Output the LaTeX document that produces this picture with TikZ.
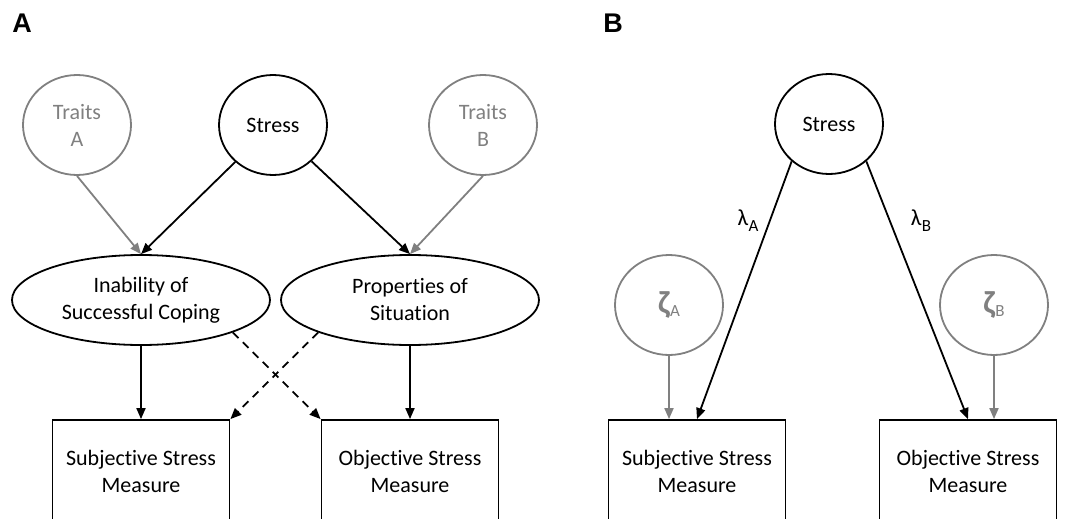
\documentclass[tikz,border=0pt]{standalone}
\usepackage{fontspec}
\setmainfont{Carlito}[Ligatures=NoCommon]
\newfontfamily\labfont{Liberation Sans}
\usetikzlibrary{shapes.geometric,arrows.meta}
\definecolor{gcol}{RGB}{128,128,128}
\tikzset{
  base/.style={inner sep=0pt,align=center,font=\fontsize{22}{27}\selectfont,line width=1.8pt},
  lat/.style={base,ellipse,draw,minimum width=108pt,minimum height=100pt},
  grey/.style={draw=gcol,text=gcol},
  wide/.style={base,ellipse,draw,minimum width=258pt,minimum height=90pt},
  obs/.style={base,rectangle,draw,minimum width=177pt,minimum height=102pt},
  arr/.style={-{Triangle[length=11pt,width=9pt]},line width=1.8pt},
  garr/.style={arr,draw=gcol},
  panel/.style={inner sep=0pt,font=\labfont\bfseries\fontsize{27}{30}\selectfont},
  lam/.style={inner sep=0pt,font=\fontsize{23}{27}\selectfont}
}
\newcommand{\subA}[2]{\kern0.5pt\raisebox{#1}{\fontsize{17}{17}\selectfont #2}}
\begin{document}
\begin{tikzpicture}[x=1pt,y=-1pt]
\useasboundingbox (0,0) rectangle (1077,519);
\clip (0,0) rectangle (1077,519);
% Panel A
\node[panel] (labA) at (22,23) {A};
\node[lat,grey] (traitsA) at (77,125) {Traits\\A};
\node[lat] (stressA) at (273,125) {Stress};
\node[lat,grey] (traitsB) at (483,125) {Traits\\B};
\node[wide] (inab) at (141,300) {Inability of\\Successful Coping};
\node[wide] (prop) at (410,300) {Properties of\\Situation};
\node[obs] (subjA) at (141,471) {Subjective Stress\\Measure};
\node[obs] (objA) at (410,471) {Objective Stress\\Measure};
\draw[garr] (traitsA.south) -- (inab.north);
\draw[garr] (traitsB.south) -- (prop.north);
\draw[arr] (stressA) -- (inab.north);
\draw[arr] (stressA) -- (prop.north);
\draw[arr] (inab.south) -- (subjA.north);
\draw[arr] (prop.south) -- (objA.north);
\draw[arr,dashed,dash pattern=on 8pt off 6pt] (inab.south east) -- (objA.north west);
\draw[arr,dashed,dash pattern=on 8pt off 6pt] (prop.south west) -- (subjA.north east);
% Panel B
\node[panel] (labB) at (613,23) {B};
\node[lat] (stressB) at (829,124) {Stress};
\node[lat,grey] (zetaA) at (669,305) {{\fontsize{32}{32}\selectfont\bfseries ζ}\subA{-3pt}{A}};
\node[lat,grey] (zetaB) at (994,305) {{\fontsize{32}{32}\selectfont\bfseries ζ}\subA{-3pt}{B}};
\node[obs] (subjB) at (697,471) {Subjective Stress\\Measure};
\node[obs] (objB) at (968,471) {Objective Stress\\Measure};
\draw[arr] (stressB.225) -- (subjB.north);
\draw[arr] (stressB.-45) -- (objB.north);
\node[lam] (lamA) at (748,221) {λ\subA{-6pt}{A}};
\node[lam] (lamB) at (921,221) {λ\subA{-6pt}{B}};
\draw[garr] (zetaA.south) -- (zetaA.south |- subjB.north);
\draw[garr] (zetaB.south) -- (zetaB.south |- objB.north);
\end{tikzpicture}
\end{document}
